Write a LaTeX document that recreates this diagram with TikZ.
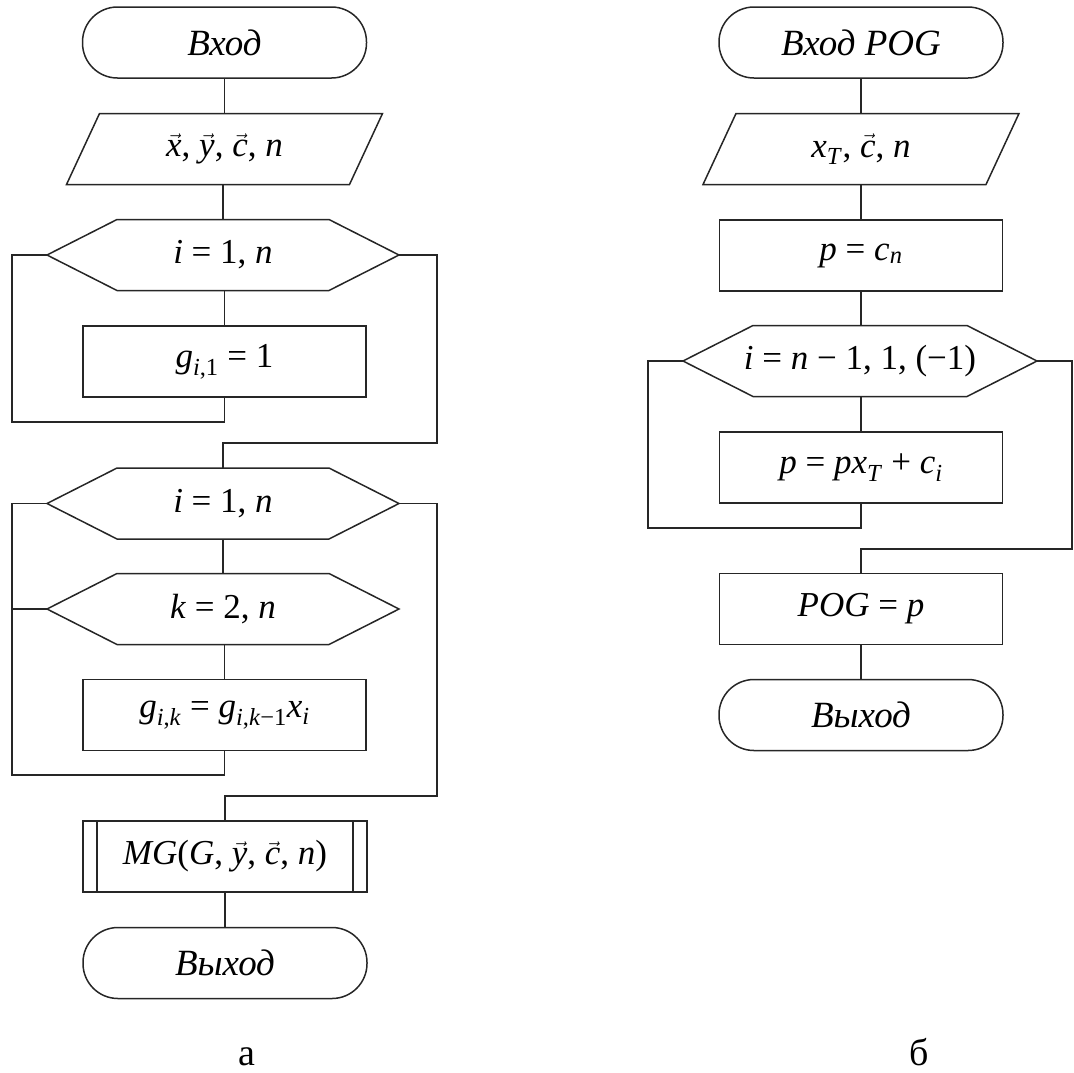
\documentclass[tikz,border=0pt]{standalone}
\usepackage{amsmath}
\usepackage{fontspec}
\setmainfont{Liberation Serif}
\newcommand\fs{\fontsize{35}{41}\selectfont}
\newcommand\tfs{\fontsize{37}{43}\selectfont}
\newcommand\capfs{\fontsize{38}{44}\selectfont}
\newcommand\vv[1]{$\vec{\text{\itshape #1}}$}
\newcommand\sbs[2]{\textit{#1}$_{\text{#2}}$}
\newcommand\hexa[1]{\draw[ln] (#1.west) -- ([xshift=70pt]#1.north west) -- ([xshift=-70pt]#1.north east) -- (#1.east) -- ([xshift=-70pt]#1.south east) -- ([xshift=70pt]#1.south west) -- cycle;}
\newcommand\para[1]{\draw[ln] ([xshift=-125pt]#1.north) -- ([xshift=158pt]#1.north) -- ([xshift=125pt]#1.south) -- ([xshift=-158pt]#1.south) -- cycle;}
\begin{document}
\begin{tikzpicture}[x=1pt,y=-1pt,
  every node/.style={inner sep=0pt, outer sep=0pt},
  ln/.style={draw=black!85, line width=1.5pt},
  lbl/.style={font=\fs, minimum height=71pt, text=black},
  term/.style={lbl, ln, font=\tfs, rounded corners=35pt, minimum width=284pt},
  proc/.style={lbl, ln, minimum width=283pt},
  io/.style={lbl, minimum width=284pt},
  loopn/.style={lbl, minimum width=352pt},
  con/.style={ln}]
\useasboundingbox (0,0) rectangle (1074,1072);
% ---------- left chart ----------
\node[term]  (tA)  at (224.5,42.5) {\textit{Вход}};
\node[io]    (pA)  at (224.5,149)  {\vv{x}, \vv{y}, \vv{c}, \textit{n}};
\para{pA}
\node[loopn] (hA1) at (223,255)    {\textit{i} = 1, \textit{n}};
\hexa{hA1}
\node[proc]  (rA1) at (224.5,361.5){\sbs{g}{\textit{i},1} = 1};
\node[loopn] (hA2) at (223,503.5)  {\textit{i} = 1, \textit{n}};
\hexa{hA2}
\node[loopn] (hA3) at (223,609)    {\textit{k} = 2, \textit{n}};
\hexa{hA3}
\node[proc]  (rA2) at (224.5,715)  {\sbs{g}{\textit{i},\textit{k}} = \sbs{g}{\textit{i},\textit{k}−1}\sbs{x}{\textit{i}}};
\node[proc, minimum width=284pt] (mA) at (225,856.5) {\textit{MG}(\textit{G}, \vv{y}, \vv{c}, \textit{n})};
\draw[ln] ([xshift=14pt]mA.north west) -- ([xshift=14pt]mA.south west);
\draw[ln] ([xshift=-14pt]mA.north east) -- ([xshift=-14pt]mA.south east);
\node[term]  (eA)  at (225,963)    {\textit{Выход}};
\coordinate (lA1) at (12,422);
\coordinate (jA1) at (437,443);
\coordinate (lA2) at (12,775);
\coordinate (jA2) at (437,796);
\draw[con] (tA) -- (pA);
\draw[con] (pA.south -| hA1.north) -- (hA1.north);
\draw[con] (hA1.south -| rA1.north) -- (rA1.north);
\draw[con] (rA1.south) |- (lA1) |- (hA1.west);
\draw[con] (hA1.east) -| (jA1) -| (hA2.north);
\draw[con] (hA2) -- (hA3);
\draw[con] (hA3.south -| rA2.north) -- (rA2.north);
\draw[con] (rA2.south) |- (lA2) |- (hA2.west);
\draw[con] (hA3.west) -- (hA3.west -| lA2);
\draw[con] (hA2.east) -| (jA2) -| (mA.north);
\draw[con] (mA) -- (eA);
\node[font=\capfs, anchor=base] (capA) at (247,1065) {а};
% ---------- right chart ----------
\node[term]  (tB)  at (861,42.5)   {\textit{Вход POG}};
\node[io]    (pB)  at (861,149)    {\sbs{x}{\textit{T}}, \vv{c}, \textit{n}};
\para{pB}
\node[proc]  (rB1) at (861,255.5)  {\textit{p} = \sbs{c}{\textit{n}}};
\node[loopn, minimum width=354pt] (hB) at (860,361) {\textit{i} = \textit{n} − 1, 1, (−1)};
\hexa{hB}
\node[proc]  (rB2) at (861,467.5)  {\textit{p} = \textit{p}\sbs{x}{\textit{T}} + \sbs{c}{\textit{i}}};
\node[proc]  (rB3) at (861,609)    {\textit{POG} = \textit{p}};
\node[term]  (eB)  at (861,715)    {\textit{Выход}};
\coordinate (lB) at (648,528);
\coordinate (jB) at (1072,549);
\draw[con] (tB) -- (pB);
\draw[con] (pB) -- (rB1);
\draw[con] (rB1.south) -- (rB1.south |- hB.north);
\draw[con] (hB.south -| rB2.north) -- (rB2.north);
\draw[con] (rB2.south) |- (lB) |- (hB.west);
\draw[con] (hB.east) -| (jB) -| (rB3.north);
\draw[con] (rB3) -- (eB);
\node[font=\capfs, anchor=base] (capB) at (919,1065) {б};
\end{tikzpicture}
\end{document}
